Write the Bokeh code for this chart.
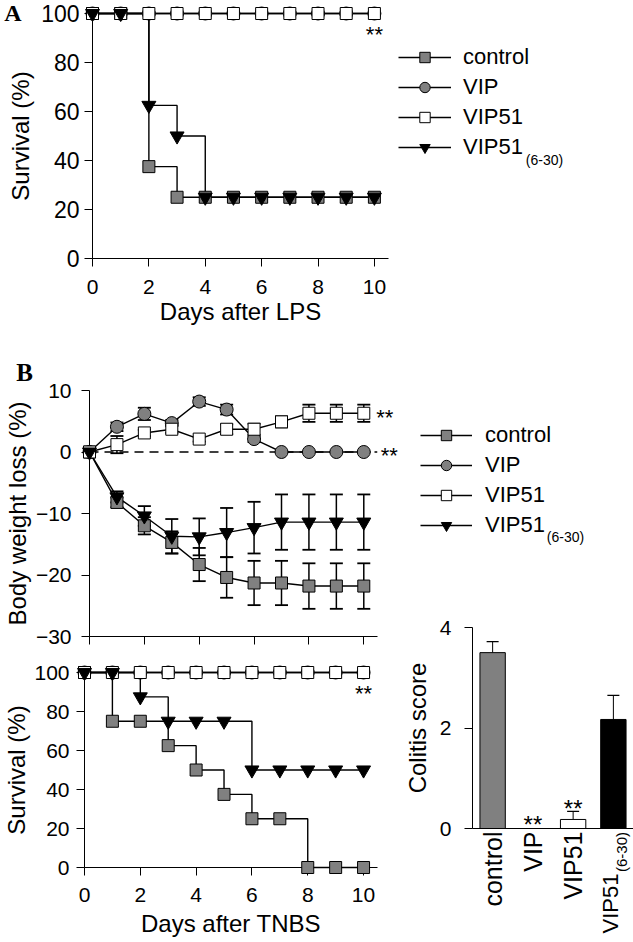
import math
from bokeh.plotting import figure
from bokeh.models import Range1d, Legend, LegendItem, Label, Span, FixedTicker
from bokeh.layouts import row, column
from bokeh.embed import file_html
from bokeh.resources import INLINE
from bokeh.core.properties import value

FONT = "Liberation Sans"
SERIF = "Liberation Serif"
NAN = float("nan")

# ---------------- data ----------------
days = [0, 1, 2, 3, 4, 5, 6, 7, 8, 9, 10]
groups = ["control", "VIP", "VIP51", "VIP51(6-30)"]

# Panel A: survival after LPS (%)
lps_control = [100, 100, 37.5, 25, 25, 25, 25, 25, 25, 25, 25]
lps_vip = [100, 100, 100, 100, 100, 100, 100, 100, 100, 100, 100]
lps_vip51 = [100, 100, 100, 100, 100, 100, 100, 100, 100, 100, 100]
lps_vip51_630 = [100, 100, 62.5, 50, 25, 25, 25, 25, 25, 25, 25]

# Panel B: body weight loss (%) and its error
wt_control = [0, -8.2, -12.0, -14.7, -18.3, -20.4, -21.3, -21.3, -21.8, -21.8, -21.8]
wt_control_err = [0, 0.8, 1.4, 1.8, 2.7, 3.3, 3.6, 3.6, 3.7, 3.7, 3.7]
wt_vip = [0, 4.1, 6.2, 4.7, 8.2, 6.9, 2.1, 0, 0, 0, 0]
wt_vip_err = [0, 0.7, 1.0, 0.5, 0.7, 0.8, 0.5, 0, 0, 0, 0]
wt_vip51 = [0, 1.2, 3.1, 3.7, 2.1, 3.7, 3.7, 4.9, 6.3, 6.3, 6.3]
wt_vip51_err = [0, 1.4, 0.5, 0.6, 0.4, 0.8, 0.9, 0.9, 1.4, 1.4, 1.4]
wt_vip51_630 = [0, -7.3, -10.4, -13.7, -13.8, -13.1, -12.3, -11.4, -11.4, -11.4, -11.4]
wt_vip51_630_err = [0, 0.9, 1.6, 2.8, 3.0, 4.0, 4.2, 4.5, 4.5, 4.5, 4.5]

# Panel B: survival after TNBS (%)
tnbs_control = [100, 75, 75, 62.5, 50, 37.5, 25, 25, 0, 0, 0]
tnbs_vip = [100, 100, 100, 100, 100, 100, 100, 100, 100, 100, 100]
tnbs_vip51 = [100, 100, 100, 100, 100, 100, 100, 100, 100, 100, 100]
tnbs_vip51_630 = [100, 100, 87.5, 75, 75, 75, 50, 50, 50, 50, 50]

# Panel B: colitis score
score_groups = ["control", "VIP", "VIP51", "VIP51"]
score_pos = [0.5, 1.5, 2.5, 3.5]
colitis_score = [3.5, 0.0, 0.18, 2.17]
colitis_err = [0.22, 0.0, 0.16, 0.48]

pct_ticks = [0, 20, 40, 60, 80, 100]
day_ticks = [0, 2, 4, 6, 8, 10]
wt_ticks = [-30, -20, -10, 0, 10]
score_ticks = [0, 2, 4]

# ---------------- styles ----------------
STYLE = {
    "control": dict(marker="square", fill_color="#808080", size=12),
    "VIP": dict(marker="circle", fill_color="#808080", size=13),
    "VIP51": dict(marker="square", fill_color="white", size=12),
    "VIP51(6-30)": dict(marker="inverted_triangle", fill_color="black", size=14),
}
BAR_COLORS = ["#808080", "white", "white", "black"]
LW = 1.4


def base_fig(width, height, xr, yr, left, right, top, bottom):
    p = figure(width=width, height=height, x_range=Range1d(*xr), y_range=Range1d(*yr),
               toolbar_location=None, output_backend="svg", frame_align=False,
               min_border_left=left, min_border_right=right,
               min_border_top=top, min_border_bottom=bottom)
    p.grid.visible = False
    p.outline_line_color = None
    p.background_fill_color = None
    p.border_fill_color = None
    for ax in p.axis:
        ax.axis_line_color = "black"
        ax.axis_line_width = 1
        ax.major_tick_line_color = "black"
        ax.major_tick_out = 8
        ax.major_tick_in = 0
        ax.minor_tick_line_color = None
        ax.major_label_text_font = FONT
        ax.major_label_text_font_size = "21px"
        ax.major_label_text_color = "black"
        ax.axis_label_text_font = FONT
        ax.axis_label_text_font_size = "24px"
        ax.axis_label_text_font_style = "normal"
        ax.axis_label_text_color = "black"
    return p


def free_text(p, x, y, text, size="22px", font=FONT, align="center",
              baseline="alphabetic", style="normal", angle=0.0):
    r = p.text(x=[x], y=[y], text=[text], angle=angle, text_font=value(font),
               text_font_size=size, text_font_style=style, text_align=align,
               text_baseline=baseline, text_color="black")
    r.level = "overlay"
    return r


def draw_survival(p, series):
    rs = []
    for name, ys in series:
        rs.append(p.step(days, ys, mode="after", line_color="black", line_width=LW))
    for name, ys in series:
        st = STYLE[name]
        rs.append(p.scatter(days, ys, marker=st["marker"], size=st["size"],
                            fill_color=st["fill_color"], line_color="black", line_width=1))
    for r in rs:
        r.level = "overlay"


def legend_fig(width, height, loc, glyph_w, standoff, sub_xy):
    lf = figure(width=width, height=height, x_range=Range1d(0, 1), y_range=Range1d(0, 1),
                toolbar_location=None, output_backend="svg", min_border=0, frame_align=False,
                x_axis_location=None, y_axis_location=None)
    lf.outline_line_color = None
    lf.grid.visible = False
    lf.background_fill_color = None
    lf.border_fill_color = None
    items = []
    for name in groups:
        st = STYLE[name]
        rl = lf.line(x=[NAN], y=[NAN], line_color="black", line_width=LW)
        rm = lf.scatter(x=[NAN], y=[NAN], marker=st["marker"], size=st["size"],
                        fill_color=st["fill_color"], line_color="black", line_width=1)
        label = "VIP51" if name == "VIP51(6-30)" else name
        items.append(LegendItem(label=label, renderers=[rl, rm]))
    leg = Legend(items=items, location=loc, orientation="vertical",
                 glyph_width=glyph_w, glyph_height=26, label_height=26, label_standoff=standoff,
                 spacing=4, padding=0, margin=0, border_line_color=None,
                 background_fill_alpha=0, label_text_font=FONT,
                 label_text_font_size="22px", label_text_color="black")
    lf.add_layout(leg)
    lf.add_layout(Label(x=sub_xy[0], y=sub_xy[1], x_units="screen", y_units="screen",
                        text="(6-30)", text_font=FONT, text_font_size="14px",
                        text_align="center", text_baseline="middle", text_color="black"))
    return lf


# ---------------- Panel A ----------------
pa = base_fig(395, 345, (0, 10.5), (0, 100), 92, 7, 13, 87)
pa.xaxis.ticker = FixedTicker(ticks=day_ticks)
pa.yaxis.ticker = FixedTicker(ticks=pct_ticks)
pa.yaxis.major_label_text_font_size = "23px"
pa.xaxis.major_label_standoff = 13
pa.yaxis.major_label_standoff = 5
pa.xaxis.axis_label = "Days after LPS"
pa.yaxis.axis_label = "Survival (%)"
pa.xaxis.axis_label_standoff = 1
pa.yaxis.axis_label_standoff = 4
draw_survival(pa, [("control", lps_control), ("VIP", lps_vip),
                   ("VIP51", lps_vip51), ("VIP51(6-30)", lps_vip51_630)])
free_text(pa, 10, 91.5, "**")
free_text(pa, -2.82, 100.3, "A", size="24px", font=SERIF, style="bold")

leg_a = legend_fig(238, 345, (3, 185), 53, 12, (149, 186))

# ---------------- Panel B: body weight ----------------
pw = base_fig(400, 304, (0, 10.5), (-30, 10), 79, 23, 45, 13)
pw.xaxis.ticker = FixedTicker(ticks=day_ticks)
pw.xaxis.major_label_text_font_size = "0px"
pw.xaxis.major_label_text_color = None
pw.xaxis.major_label_standoff = 0
pw.yaxis.ticker = FixedTicker(ticks=wt_ticks)
pw.yaxis.major_label_standoff = 10
pw.yaxis.axis_label = "Body weight loss (%)"
pw.yaxis.axis_label_standoff = 2
pw.add_layout(Span(location=0, dimension="width", line_color="black", line_width=1.5,
                   line_dash="9 6", level="underlay"))

wt_series = [("control", wt_control, wt_control_err), ("VIP", wt_vip, wt_vip_err),
             ("VIP51", wt_vip51, wt_vip51_err), ("VIP51(6-30)", wt_vip51_630, wt_vip51_630_err)]
rs = []
for name, ys, es in wt_series:
    rs.append(pw.line(days, ys, line_color="black", line_width=LW))
for name, ys, es in wt_series:
    lo = [v - e for v, e in zip(ys, es)]
    hi = [v + e for v, e in zip(ys, es)]
    rs.append(pw.segment(x0=days, y0=lo, x1=days, y1=hi, line_color="black", line_width=1.5))
    rs.append(pw.scatter(days, lo, marker="dash", size=13, line_color="black", line_width=1.8))
    rs.append(pw.scatter(days, hi, marker="dash", size=13, line_color="black", line_width=1.8))
for name, ys, es in wt_series:
    st = STYLE[name]
    rs.append(pw.scatter(days, ys, marker=st["marker"], size=st["size"],
                         fill_color=st["fill_color"], line_color="black", line_width=1))
for r in rs:
    r.level = "overlay"
free_text(pw, 10.45, 5.6, "**", align="left")
free_text(pw, 10.62, -0.5, "**", align="left")
free_text(pw, -2.37, 12.97, "B", size="25px", font=SERIF, style="bold")

leg_b = legend_fig(233, 255, (20, 62), 52, 13, (165, 64))

# ---------------- Panel B: survival after TNBS ----------------
ps = base_fig(400, 292, (0, 10.5), (0, 100), 79, 23, 23, 74)
ps.xaxis.ticker = FixedTicker(ticks=day_ticks)
ps.yaxis.ticker = FixedTicker(ticks=pct_ticks)
ps.xaxis.major_label_standoff = 12
ps.yaxis.major_label_standoff = 7
ps.xaxis.axis_label = "Days after TNBS"
ps.yaxis.axis_label = "Survival (%)"
ps.xaxis.axis_label_standoff = 5
ps.yaxis.axis_label_standoff = 1
draw_survival(ps, [("control", tnbs_control), ("VIP", tnbs_vip),
                   ("VIP51", tnbs_vip51), ("VIP51(6-30)", tnbs_vip51_630)])
free_text(ps, 10, 89.3, "**")

# ---------------- Panel B: colitis score ----------------
pb = base_fig(233, 341, (0, 4), (0, 4), 67, 0, 27, 113)
pb.yaxis.ticker = FixedTicker(ticks=score_ticks)
pb.yaxis.major_label_standoff = 13
pb.yaxis.axis_label = "Colitis score"
pb.yaxis.axis_label_standoff = 6
pb.xaxis.ticker = FixedTicker(ticks=score_pos[:3])
pb.xaxis.major_label_overrides = {pos: name for pos, name in zip(score_pos[:3], score_groups[:3])}
pb.xaxis.major_label_orientation = math.pi / 2
pb.xaxis.major_tick_out = 0
pb.xaxis.major_label_standoff = 3
pb.xaxis.major_label_text_font_size = "25px"
score_hi = [v + e for v, e in zip(colitis_score, colitis_err)]
pb.segment(x0=score_pos, y0=colitis_score, x1=score_pos, y1=score_hi,
           line_color="black", line_width=1)
pb.scatter(score_pos, score_hi, marker="dash", size=12, line_color="black", line_width=1.2)
pb.vbar(x=score_pos, top=colitis_score, width=0.63, fill_color=BAR_COLORS,
        line_color="black", line_width=1)
free_text(pb, 1.5, 0.08, "**", size="24px")
free_text(pb, 2.5, 0.40, "**", size="24px")
free_text(pb, 3.42, -0.896, score_groups[3], size="22px", align="right",
          baseline="middle", angle=math.pi / 2)
free_text(pb, 3.69, -0.468, "(6-30)", size="15px", align="center",
          baseline="middle", angle=math.pi / 2)

layout = column(row(pa, leg_a), row(column(pw, ps), column(leg_b, pb)))
open("out.html", "w").write(file_html(layout, INLINE))
